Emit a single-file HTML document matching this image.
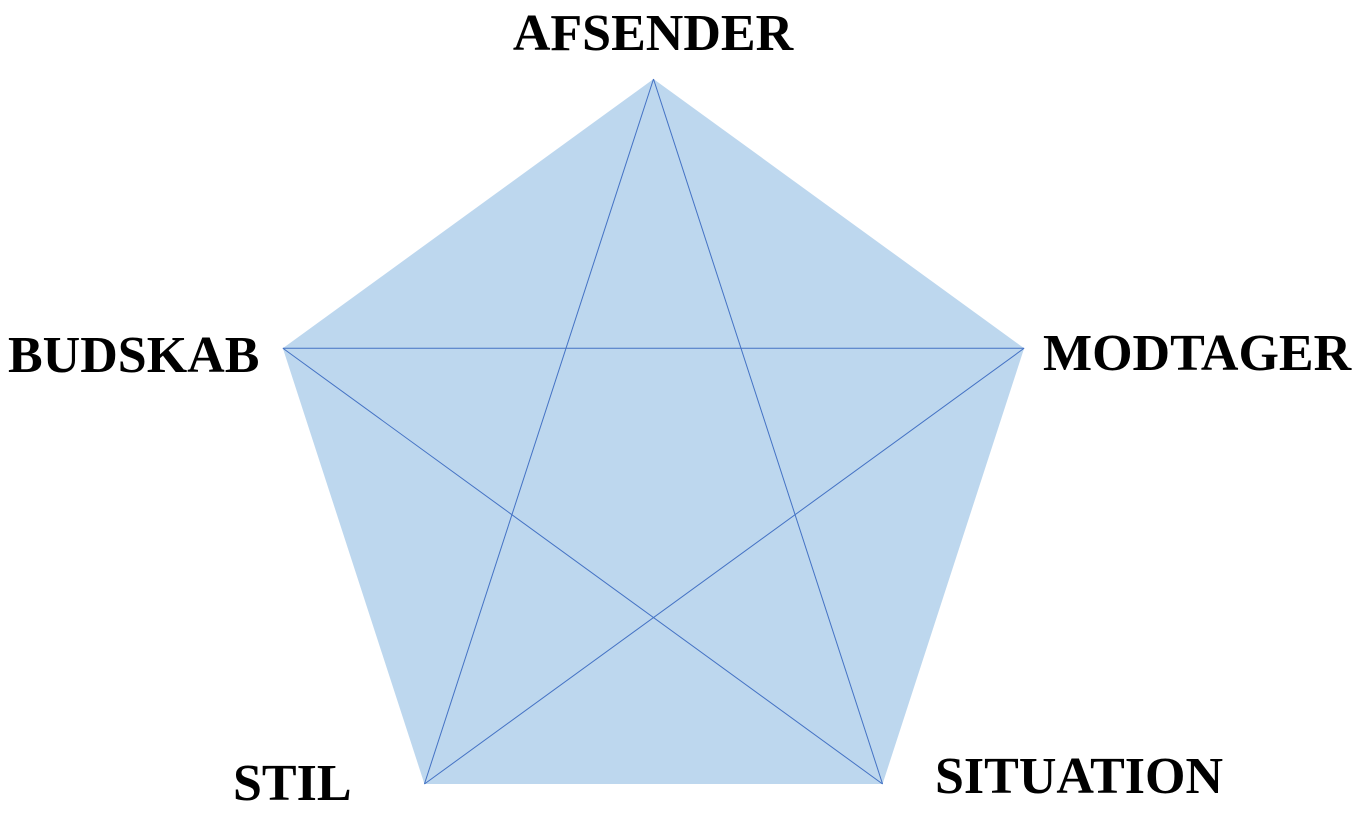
<!DOCTYPE html>
<html><head><meta charset="utf-8">
<style>
html,body{margin:0;padding:0;background:#fff;}
svg{display:block;}
text{font-family:"Liberation Serif",serif;font-weight:bold;font-size:52px;fill:#000;}
</style></head>
<body>
<svg id="chart" width="1359" height="816" viewBox="0 0 1359 816"></svg>
<script>
const categories = ["AFSENDER","MODTAGER","SITUATION","STIL","BUDSKAB"];
const values = [1,1,1,1,1];
const maxValue = 1;

const NS = "http://www.w3.org/2000/svg";
const svg = document.getElementById("chart");
const cx = 653.5, cy = 468.7, R = 389.7;
function pt(i, v){
  const a = -Math.PI/2 + i*2*Math.PI/categories.length;
  const r = R * v / maxValue;
  return [cx + r*Math.cos(a), cy + r*Math.sin(a)];
}
const pts = values.map((v,i)=>pt(i,v));
const poly = document.createElementNS(NS,"polygon");
poly.setAttribute("points", pts.map(p=>p.join(",")).join(" "));
poly.setAttribute("fill","#BDD7EE");


svg.appendChild(poly);
for(let i=0;i<pts.length;i++){
  for(let j=i+2;j<pts.length;j++){
    if(i===0 && j===pts.length-1) continue;
    const l = document.createElementNS(NS,"line");
    l.setAttribute("x1",pts[i][0]);l.setAttribute("y1",pts[i][1]);
    l.setAttribute("x2",pts[j][0]);l.setAttribute("y2",pts[j][1]);
    l.setAttribute("stroke","#4472C4");l.setAttribute("stroke-width","1");
    
    
    svg.appendChild(l);
  }
}
const labelPos = [
  {x:653,y:50,anchor:"middle"},
  {x:1043,y:370,anchor:"start"},
  {x:935,y:793,anchor:"start"},
  {x:233,y:800,anchor:"start"},
  {x:8,y:372,anchor:"start"}
];
categories.forEach((c,i)=>{
  const t = document.createElementNS(NS,"text");
  t.setAttribute("x",labelPos[i].x);t.setAttribute("y",labelPos[i].y);
  t.setAttribute("text-anchor",labelPos[i].anchor);
  t.textContent = c;
  
  
  svg.appendChild(t);
});
</script>
</body></html>
